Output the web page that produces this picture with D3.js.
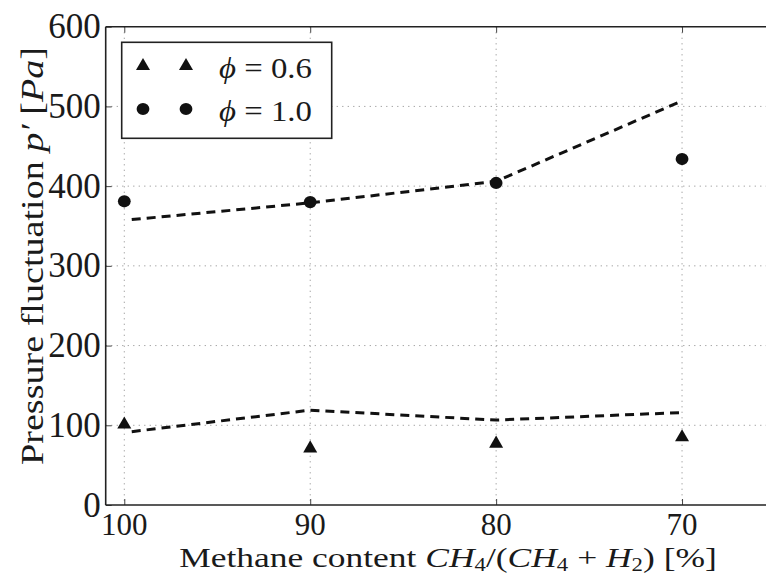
<!DOCTYPE html>
<html><head><meta charset="utf-8">
<script src="https://cdn.jsdelivr.net/npm/d3@7"></script>
<style>
html,body{margin:0;padding:0;background:#fff;}
svg text{font-family:"Liberation Serif","DejaVu Serif",serif;fill:#1a1a1a;}
</style></head>
<body><svg id="c" width="766" height="577"></svg>
<script>
// ---- data ----
const methane = [100, 90, 80, 70];
const phi06 = [101, 71, 77, 85];
const phi10 = [381, 380, 404, 434];
const modelX = [99.6, 90, 80, 70];
const model06 = [92, 119, 106.5, 116];
const model10 = [358, 379, 406, 507];
const xTicks = [100, 90, 80, 70];
const yTicks = [0, 100, 200, 300, 400, 500, 600];
const legendLabels = ["0.6", "1.0"];

const svg = d3.select("#c");
const L = 105.7, T = 26.7, B = 505, R = 775;
const x = d3.scaleLinear().domain([101, 65]).range([L, R]);
const y = d3.scaleLinear().domain([0, 600]).range([B, T]);

function fitX(sel, ax, w){
  const bb = sel.node().getBBox();
  const k = w / bb.width;
  sel.attr("transform", `translate(${ax},0) scale(${k},1) translate(${-ax},0)`);
}

// grid
const g = svg.append("g");
g.selectAll(".gx").data(xTicks).enter().append("line")
  .attr("x1", d => x(d)).attr("x2", d => x(d)).attr("y1", T).attr("y2", B)
  .attr("stroke", "#9a9a9a").attr("stroke-width", 1).attr("stroke-dasharray", "1.2,4.3");
g.selectAll(".gy").data(yTicks.slice(1, -1)).enter().append("line")
  .attr("y1", d => y(d)).attr("y2", d => y(d)).attr("x1", L).attr("x2", 766)
  .attr("stroke", "#9a9a9a").attr("stroke-width", 1).attr("stroke-dasharray", "1.2,4.3");

// axes with inward ticks
const xAxisB = d3.axisBottom(x).tickValues(xTicks).tickSize(-6).tickFormat("");
const xAxisT = d3.axisTop(x).tickValues(xTicks).tickSize(-6).tickFormat("");
const yAxisL = d3.axisLeft(y).tickValues(yTicks).tickSize(-6).tickFormat("");
function styleAxis(sel){
  sel.select(".domain").remove();
  sel.selectAll(".tick line").attr("stroke", "#444").attr("stroke-width", 1);
}
svg.append("g").attr("transform", `translate(0,${B})`).call(xAxisB).call(styleAxis);
svg.append("g").attr("transform", `translate(0,${T})`).call(xAxisT).call(styleAxis);
svg.append("g").attr("transform", `translate(${L},0)`).call(yAxisL).call(styleAxis);

// spines
svg.append("line").attr("x1", L).attr("x2", L).attr("y1", T).attr("y2", B).attr("stroke", "#222").attr("stroke-width", 1.6);
svg.append("line").attr("x1", L).attr("x2", 766).attr("y1", B).attr("y2", B).attr("stroke", "#222").attr("stroke-width", 1.6);
svg.append("line").attr("x1", L).attr("x2", 766).attr("y1", T).attr("y2", T).attr("stroke", "#222").attr("stroke-width", 1.6);

// tick labels
svg.selectAll(".xl").data(xTicks).enter().append("text")
  .attr("x", d => x(d)).attr("y", B + 30).attr("text-anchor", "middle")
  .attr("font-size", 31).text(d => d);
svg.selectAll(".yl").data(yTicks).enter().append("text")
  .attr("x", L - 5).attr("y", d => y(d) + 11.5).attr("text-anchor", "end")
  .attr("font-size", 35).text(d => d);

// model dashed lines
const line = d3.line().x(d => x(d[0])).y(d => y(d[1]));
[model06, model10].forEach(m => {
  svg.append("path").datum(modelX.map((v, i) => [v, m[i]]))
    .attr("d", line).attr("fill", "none").attr("stroke", "#111")
    .attr("stroke-width", 3).attr("stroke-dasharray", "9,6");
});

// markers
const tri = d3.symbol().type(d3.symbolTriangle).size(85);
svg.selectAll(".t").data(methane).enter().append("path")
  .attr("d", tri).attr("transform", (d, i) => `translate(${x(d)},${y(phi06[i])})`).attr("fill", "#111");
svg.selectAll(".c").data(methane).enter().append("ellipse")
  .attr("cx", d => x(d)).attr("cy", (d, i) => y(phi10[i])).attr("rx", 6.4).attr("ry", 6.1).attr("fill", "#111");

// legend
const lg = svg.append("g");
lg.append("rect").attr("x", 121.7).attr("y", 42.3).attr("width", 210).attr("height", 96)
  .attr("fill", "#fff").attr("stroke", "#222").attr("stroke-width", 1.6);
[143, 186].forEach(px => {
  lg.append("path").attr("d", tri).attr("transform", `translate(${px},66)`).attr("fill", "#111");
  lg.append("ellipse").attr("cx", px).attr("cy", 109).attr("rx", 6.4).attr("ry", 6.1).attr("fill", "#111");
});
legendLabels.forEach((v, i) => {
  const t = lg.append("text").attr("x", 219).attr("y", 78 + i * 43).attr("font-size", 29);
  t.append("tspan").attr("font-style", "italic").text("\u03D5");
  t.append("tspan").text(" = " + v);
  fitX(t, 219, 93);
});

// y label
const yl = svg.append("text").attr("x", 0).attr("y", 0)
  .attr("text-anchor", "middle").attr("font-size", 31);
yl.append("tspan").text("Pressure fluctuation ");
yl.append("tspan").attr("font-style", "italic").text("p\u2032");
yl.append("tspan").text(" [");
yl.append("tspan").attr("font-style", "italic").text("Pa");
yl.append("tspan").text("]");
{
  const bb = yl.node().getBBox();
  const k = 418 / bb.width;
  yl.attr("transform", `translate(43,256) rotate(-90) scale(${k},1)`);
}

// x label
const xl = svg.append("text").attr("x", 448).attr("y", 567).attr("text-anchor", "middle").attr("font-size", 28);
xl.append("tspan").text("Methane content ");
xl.append("tspan").attr("font-style", "italic").text("CH");
xl.append("tspan").attr("font-size", 18).attr("dy", 4).text("4");
xl.append("tspan").attr("dy", -4).text("/(");
xl.append("tspan").attr("font-style", "italic").text("CH");
xl.append("tspan").attr("font-size", 18).attr("dy", 4).text("4");
xl.append("tspan").attr("dy", -4).text(" + ");
xl.append("tspan").attr("font-style", "italic").text("H");
xl.append("tspan").attr("font-size", 18).attr("dy", 4).text("2");
xl.append("tspan").attr("dy", -4).text(") [%]");
fitX(xl, 448, 538);
</script></body></html>
